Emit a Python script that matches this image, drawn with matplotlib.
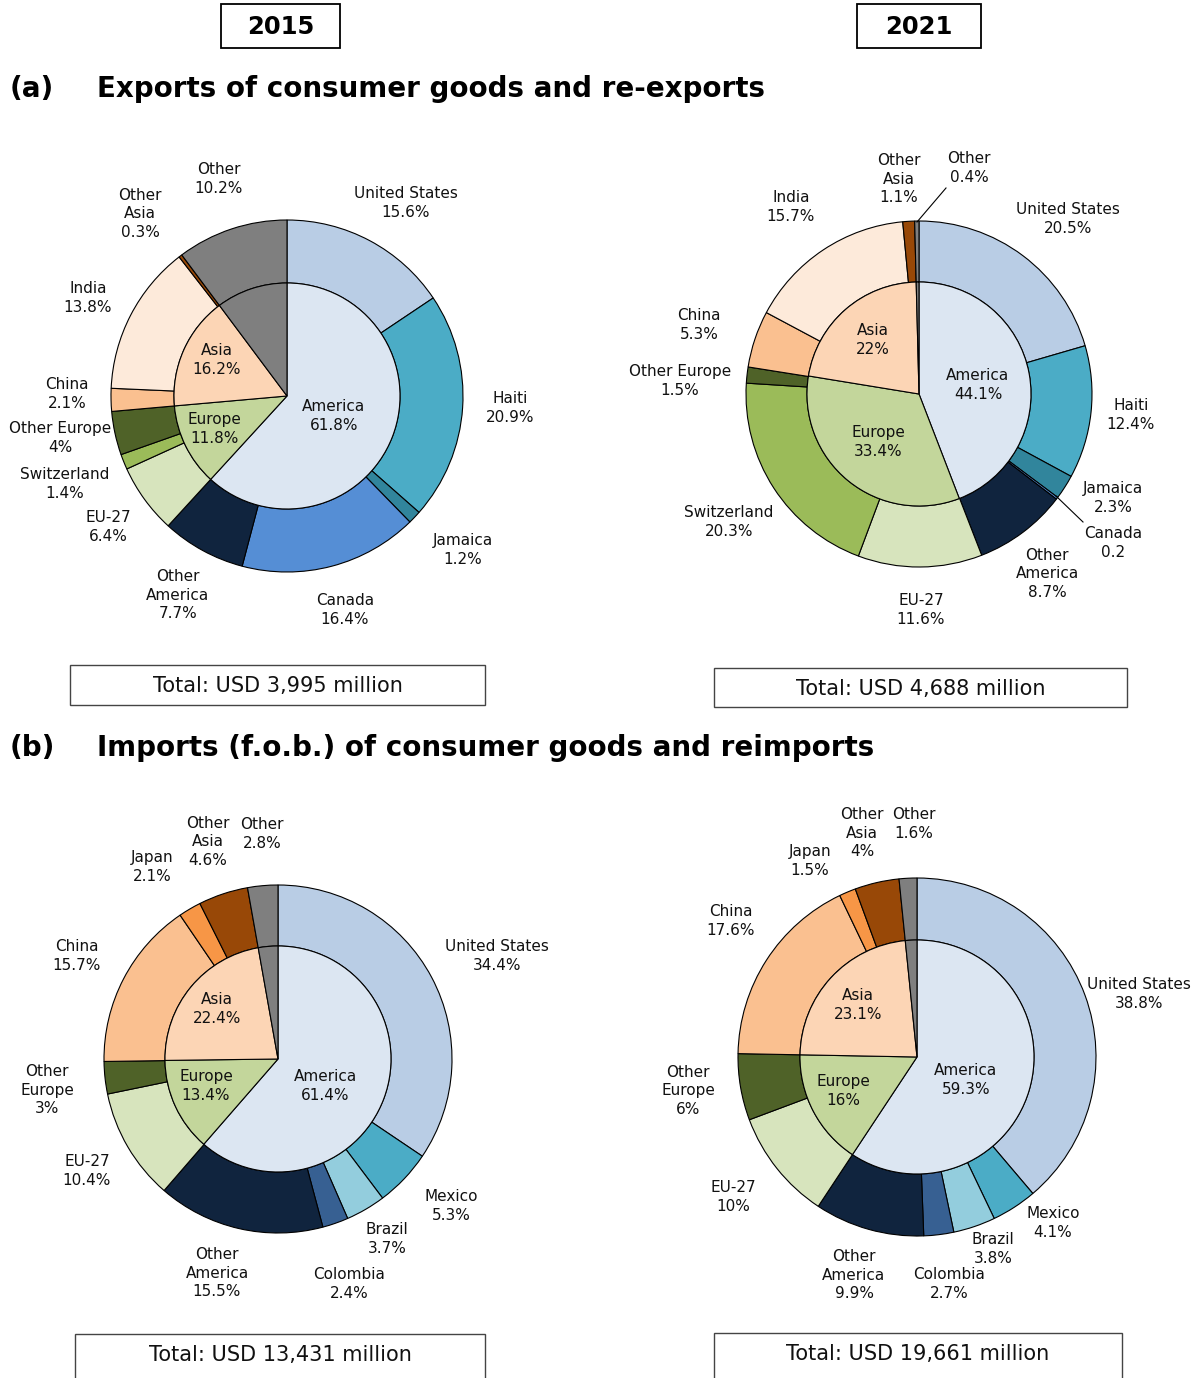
import matplotlib.pyplot as plt
from matplotlib.patches import Rectangle

W, H = 1194, 1378

# ---- data ----
region_names = ["America", "Europe", "Asia", "Other"]

exp15_names = ["United States", "Haiti", "Jamaica", "Canada", "Other\nAmerica",
               "EU-27", "Switzerland", "Other Europe", "China", "India",
               "Other\nAsia", "Other"]
exp15_values = [15.6, 20.9, 1.2, 16.4, 7.7, 6.4, 1.4, 4, 2.1, 13.8, 0.3, 10.2]
exp15_regions = [61.8, 11.8, 16.2, 10.2]

exp21_names = exp15_names
exp21_values = [20.5, 12.4, 2.3, 0.2, 8.7, 11.6, 20.3, 1.5, 5.3, 15.7, 1.1, 0.4]
exp21_regions = [44.1, 33.4, 22, 0.4]

imp15_names = ["United States", "Mexico", "Brazil", "Colombia", "Other\nAmerica",
               "EU-27", "Other\nEurope", "China", "Japan", "Other\nAsia", "Other"]
imp15_values = [34.4, 5.3, 3.7, 2.4, 15.5, 10.4, 3, 15.7, 2.1, 4.6, 2.8]
imp15_regions = [61.4, 13.4, 22.4, 2.8]

imp21_names = imp15_names
imp21_values = [38.8, 4.1, 3.8, 2.7, 9.9, 10, 6, 17.6, 1.5, 4, 1.6]
imp21_regions = [59.3, 16, 23.1, 1.6]

totals = ["Total: USD 3,995 million", "Total: USD 4,688 million",
          "Total: USD 13,431 million", "Total: USD 19,661 million"]
years = ["2015", "2021"]
section_titles = [("(a)", "Exports of consumer goods and re-exports"),
                  ("(b)", "Imports (f.o.b.) of consumer goods and reimports")]

# colours
region_colors = {"America": "#dce6f2", "Europe": "#c3d69b", "Asia": "#fcd5b5", "Other": "#7f7f7f"}
colors = {
    "United States": "#b9cde5", "Haiti": "#4bacc6", "Jamaica": "#31859c",
    "Canada": "#558ed5", "Other America": "#10243e", "Mexico": "#4bacc6",
    "Brazil": "#93cddd", "Colombia": "#376092",
    "EU-27": "#d7e4bd", "Switzerland": "#9bbb59", "Other Europe": "#4f6228",
    "China": "#fac090", "India": "#fdeada", "Japan": "#f79646",
    "Other Asia": "#984807", "Other": "#7f7f7f",
}

# ---- layout (pixel coords, y measured from top) ----
charts = [
    dict(names=exp15_names, values=exp15_values, regions=exp15_regions,
         center=(287, 396), R=176, r=113,
         labels=[(406, 203), (510, 408), (463, 550), (345, 610), (178, 595),
                 (108, 527), (65, 484), (60, 438), (67, 394), (88, 298),
                 (140, 214), (219, 179)],
         inner=[(334, 416), (214, 429), (217, 360)],
         box=(70, 665, 415, 40), leaders=[]),
    dict(names=exp21_names, values=exp21_values, regions=exp21_regions,
         center=(919, 394), R=173, r=112,
         labels=[(1068, 219), (1131, 415), (1113, 498), (1113, 543), (1047, 574),
                 (921, 610), (729, 522), (680, 381), (699, 325), (791, 207),
                 (899, 179), (969, 168)],
         inner=[(978, 385), (878, 442), (873, 340)],
         box=(714, 668, 413, 39),
         leaders=[((917, 222), (946, 188)), ((1056, 496), (1083, 522))]),
    dict(names=imp15_names, values=imp15_values, regions=imp15_regions,
         center=(278, 1059), R=174, r=113,
         labels=[(497, 956), (451, 1206), (387, 1239), (349, 1284), (217, 1273),
                 (87, 1171), (47, 1090), (77, 956), (152, 867), (208, 842),
                 (262, 834)],
         inner=[(325, 1086), (206, 1086), (217, 1009)],
         box=(75, 1334, 410, 50), leaders=[]),
    dict(names=imp21_names, values=imp21_values, regions=imp21_regions,
         center=(917, 1057), R=179, r=117,
         labels=[(1139, 994), (1053, 1223), (993, 1249), (949, 1284), (854, 1275),
                 (733, 1197), (688, 1091), (731, 921), (810, 861), (862, 833),
                 (914, 824)],
         inner=[(966, 1080), (843, 1091), (858, 1005)],
         box=(714, 1333, 408, 50), leaders=[]),
]

plt.rcParams['font.family'] = 'DejaVu Sans'
fig = plt.figure(figsize=(W / 100, H / 100), dpi=100)
ax = fig.add_axes([0, 0, 1, 1])

FS = 11
LS = 1.3
edge = dict(edgecolor='black', linewidth=0.8)

for k, c in enumerate(charts):
    cx, cy = c["center"]
    center = (cx, H - cy)
    keys = [n.replace("\n", " ") for n in c["names"]]
    ax.pie(c["values"], colors=[colors[n] for n in keys], radius=c["R"],
           center=center, startangle=90, counterclock=False,
           wedgeprops=dict(width=c["R"] - c["r"], **edge))
    ax.pie(c["regions"], colors=[region_colors[n] for n in region_names],
           radius=c["r"], center=center, startangle=90, counterclock=False,
           wedgeprops=edge)

    for name, v, (x, y) in zip(c["names"], c["values"], c["labels"]):
        val = f"{v:g}" if (k == 1 and name == "Canada") else f"{v:g}%"
        ax.text(x, H - y, f"{name}\n{val}", ha='center', va='center',
                fontsize=FS, linespacing=LS, color='#111111')
    for name, v, (x, y) in zip(region_names, c["regions"], c["inner"]):
        ax.text(x, H - y, f"{name}\n{v:g}%", ha='center', va='center',
                fontsize=FS, linespacing=LS, color='#111111')
    for (x0, y0), (x1, y1) in c["leaders"]:
        ax.plot([x0, x1], [H - y0, H - y1], color='black', lw=0.8)

    bx, by, bw, bh = c["box"]
    ax.add_patch(Rectangle((bx, H - by - bh), bw, bh, facecolor='white',
                           edgecolor='#444444', lw=1.0, clip_on=False))
    ty = by + 21
    ax.text(bx + bw / 2, H - ty, totals[k], ha='center', va='center',
            fontsize=15, color='#111111')

# year boxes
for (x0, w), yr in zip([(221, 119), (857, 124)], years):
    ax.add_patch(Rectangle((x0, H - 48), w, 44, facecolor='white',
                           edgecolor='black', lw=1.3))
    ax.text(x0 + w / 2, H - 27, yr, ha='center', va='center',
            fontsize=17.5, fontweight='bold')

# section titles
for (tag, title), y in zip(section_titles, [89, 748]):
    ax.text(10, H - y, tag, ha='left', va='center', fontsize=20, fontweight='bold')
    ax.text(97, H - y, title, ha='left', va='center', fontsize=20, fontweight='bold')

ax.set_xlim(0, W)
ax.set_ylim(0, H)
ax.set_aspect('equal')
ax.axis('off')

fig.savefig('out.png', dpi=100)
